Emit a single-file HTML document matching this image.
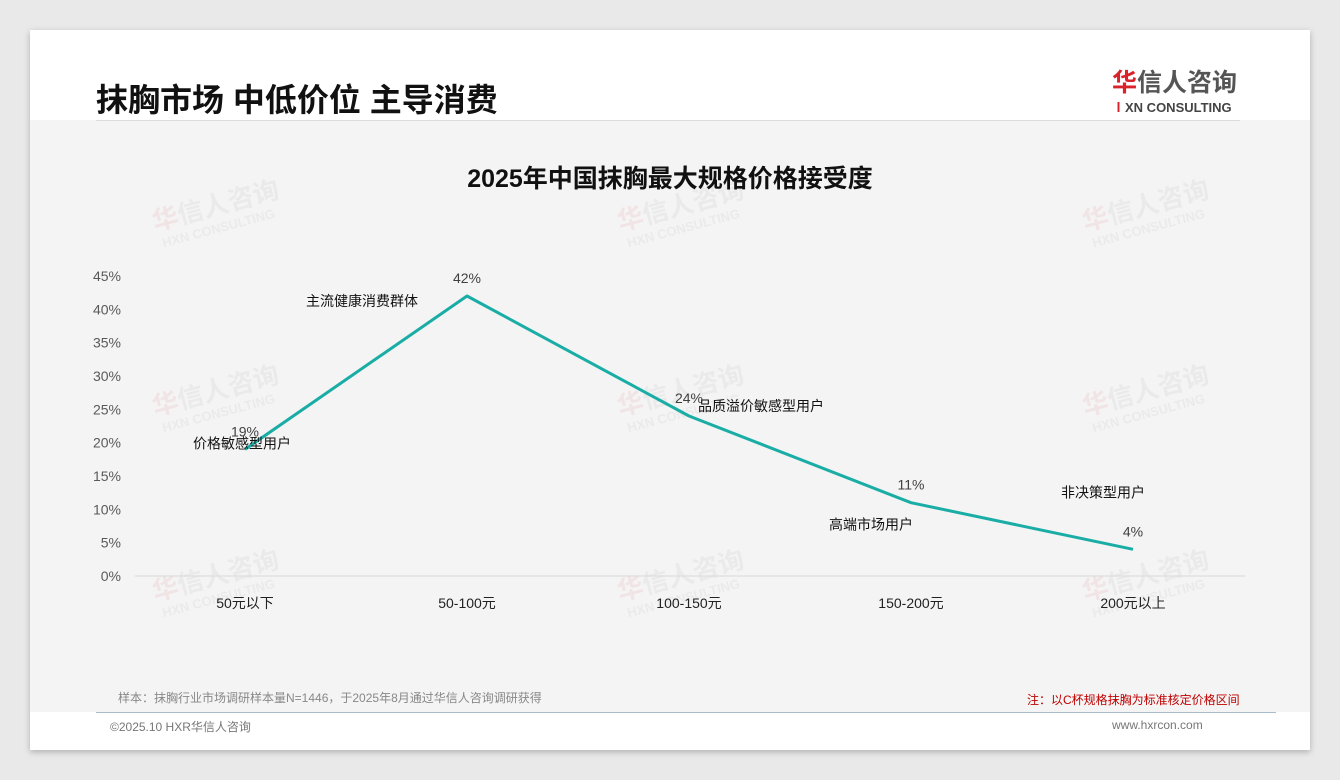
<!DOCTYPE html>
<html><head><meta charset="utf-8">
<style>
body{margin:0;width:1340px;height:780px;background:#e9e9e9;font-family:"Liberation Sans","Noto Sans CJK SC",sans-serif;overflow:hidden;position:relative}
.card{position:absolute;left:30px;top:30px;width:1280px;height:720px;background:#fff;box-shadow:0 2px 6px rgba(0,0,0,.25)}
.inner{position:absolute;left:0;top:90px;width:1280px;height:592px;background:#f4f4f4}
.abs{position:absolute}
</style></head><body>
<div class="card">
  <div class="inner"></div>
  <div class="abs" style="left:66px;top:45px;font-size:32px;font-weight:bold;color:#111;">抹胸市场 中低价位 主导消费</div>
  <div class="abs" style="left:1082px;top:33px;text-align:left">
    <div style="font-size:25px;color:#555;font-weight:bold;letter-spacing:0px"><span style="color:#d9232a">华</span>信人咨询</div>
    <div style="font-size:13px;color:#444;font-weight:bold;margin-top:-2px"><span style="color:#d9232a">Ⅰ</span>XN CONSULTING</div>
  </div>
  <div class="abs" style="left:66px;top:90px;width:1144px;height:1px;background:#ddd"></div>
  <div class="abs" style="left:66px;top:682px;width:1180px;height:1px;background:#a9bccb"></div>
  <div class="abs" style="left:88px;top:659px;font-size:12px;color:#888">样本：抹胸行业市场调研样本量N=1446，于2025年8月通过华信人咨询调研获得</div>
  <div class="abs" style="left:997px;top:661px;font-size:12px;color:#c00000">注：以C杯规格抹胸为标准核定价格区间</div>
  <div class="abs" style="left:80px;top:688px;font-size:12px;color:#777">©2025.10 HXR华信人咨询</div>
  <div class="abs" style="left:1082px;top:688px;font-size:12px;color:#777">www.hxrcon.com</div>
</div>
<svg id="chart" class="abs" style="left:0;top:0" width="1340" height="780"></svg>
<script>
const categories=["50元以下","50-100元","100-150元","150-200元","200元以上"];
const values=[19,42,24,11,4];
const annotations=["价格敏感型用户","主流健康消费群体","品质溢价敏感型用户","高端市场用户","非决策型用户"];
const yTicks=[0,5,10,15,20,25,30,35,40,45];
const annOffsets=[[-3,-1],[-105,10],[72,-5],[-40,27],[-30,-52]];
const svg=document.getElementById('chart');
const NS='http://www.w3.org/2000/svg';
const x=i=>245+i*222;
const y=v=>576-v*(300/45);
function mk(tag,attrs,txt){const e=document.createElementNS(NS,tag);for(const k in attrs)e.setAttribute(k,attrs[k]);if(txt!==undefined)e.textContent=txt;svg.appendChild(e);return e;}
const wm=[[215,215],[680,215],[1145,215],[215,400],[680,400],[1145,400],[215,585],[680,585],[1145,585]];
wm.forEach(p=>{const g=document.createElementNS(NS,'g');g.setAttribute('transform',`translate(${p[0]},${p[1]}) rotate(-15)`);g.setAttribute('opacity','0.07');


g.innerHTML='<text x="-62" y="0" font-size="26" font-weight="bold" fill="#777"><tspan fill="#d9232a">华</tspan>信人咨询</text><text x="-58" y="18" font-size="13" font-weight="bold" fill="#777">HXN CONSULTING</text>';svg.appendChild(g);});
let e=mk('text',{x:670,y:187,'text-anchor':'middle','font-size':25,'font-weight':'bold',fill:'#111'},'2025年中国抹胸最大规格价格接受度');


e=mk('line',{x1:135,x2:1245,y1:y(0),y2:y(0),stroke:'#d9d9d9','stroke-width':1});


yTicks.forEach(t=>{const l=mk('text',{x:121,y:y(t)+5,'text-anchor':'end','font-size':14,fill:'#595959'},t+'%');

});
categories.forEach((c,i)=>{const l=mk('text',{x:x(i),y:608,'text-anchor':'middle','font-size':14,fill:'#222'},c);

});
e=mk('polyline',{points:values.map((v,i)=>x(i)+','+y(v)).join(' '),fill:'none',stroke:'#1aada6','stroke-width':3,'stroke-linejoin':'round'});


values.forEach((v,i)=>{const l=mk('text',{x:x(i),y:y(v)-13,'text-anchor':'middle','font-size':14,fill:'#404040'},v+'%');


const a=mk('text',{x:x(i)+annOffsets[i][0],y:y(v)+annOffsets[i][1],'text-anchor':'middle','font-size':14,fill:'#111'},annotations[i]);

});
</script>
</body></html>
